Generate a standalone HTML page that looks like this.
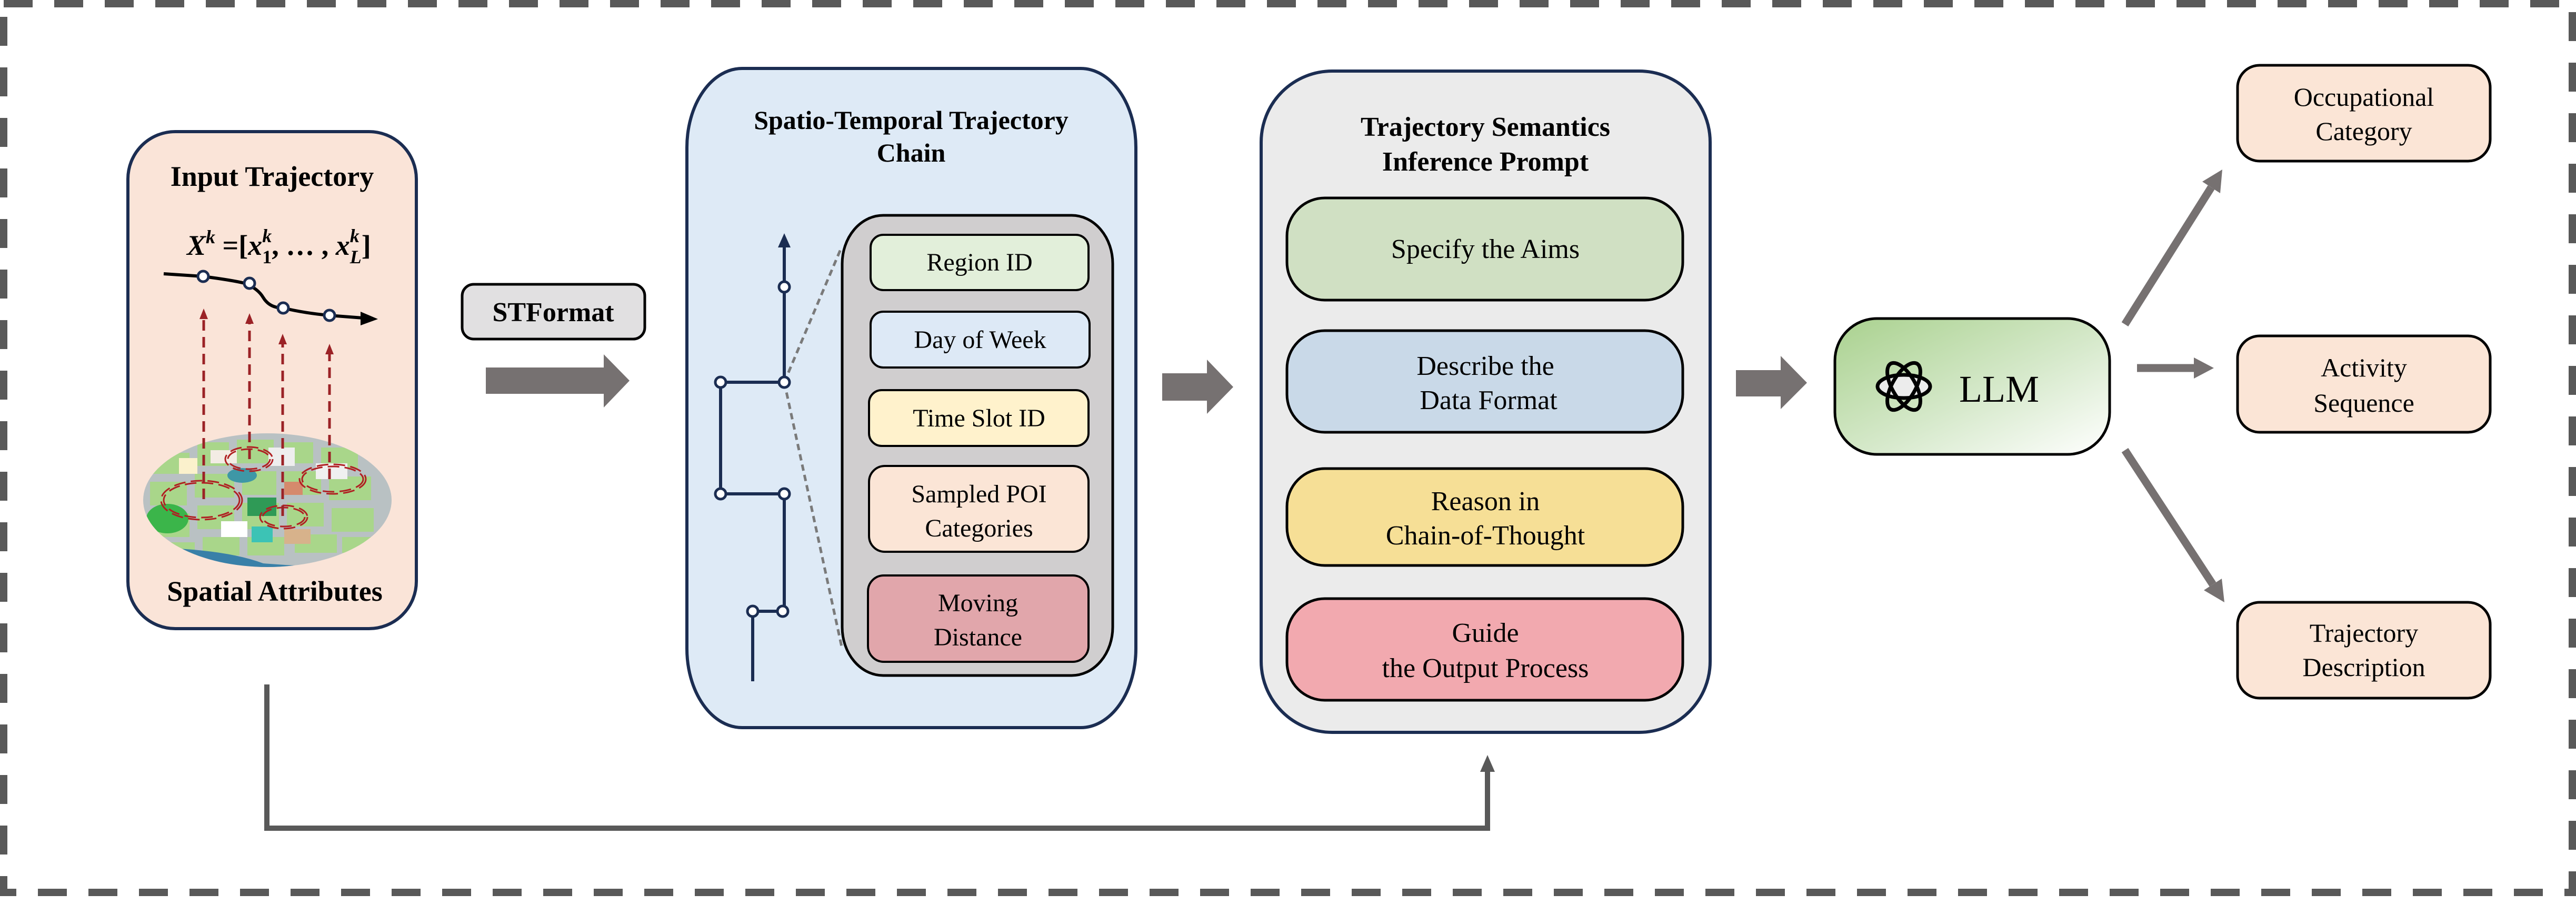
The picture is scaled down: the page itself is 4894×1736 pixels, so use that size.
<!DOCTYPE html>
<html><head><meta charset="utf-8"><style>
html,body{margin:0;padding:0;background:#fff;}
svg{display:block;}
svg text{font-family:"Liberation Serif","Times New Roman","DejaVu Serif",serif;fill:#000;}
.b{font-weight:bold;}
</style></head><body>
<svg width="4894" height="1736" viewBox="0 0 4894 1736" xmlns="http://www.w3.org/2000/svg" font-family="Liberation Serif, Times New Roman, serif">
<defs>
<linearGradient id="llmg" x1="0" y1="0" x2="1" y2="1">
<stop offset="0" stop-color="#a9d18e"/><stop offset="0.55" stop-color="#d6e9cb"/><stop offset="1" stop-color="#ffffff"/>
</linearGradient>
<clipPath id="mapc"><ellipse cx="508" cy="950" rx="236" ry="127"/></clipPath>
</defs>
<rect x="7" y="7" width="4880" height="1688" fill="none" stroke="#595959" stroke-width="14" stroke-dasharray="55 41"/>

<rect x="243" y="250" width="548" height="944" rx="90" ry="90" fill="#fae4d8" stroke="#1b2d52" stroke-width="6"/>
<text class="b" x="517" y="353" font-size="54" text-anchor="middle">Input Trajectory</text>
<text x="355" y="484" font-size="54" font-style="italic" font-weight="bold">X<tspan font-size="36" dy="-22">k</tspan><tspan dy="22" font-style="normal"> =[</tspan>x<tspan font-size="36" dy="-24">k</tspan><tspan font-size="36" dx="-18" dy="40" font-style="normal">1</tspan><tspan dy="-16" font-style="normal">, … , </tspan>x<tspan font-size="36" dy="-24">k</tspan><tspan font-size="36" dx="-18" dy="40">L</tspan><tspan dy="-16" font-style="normal">]</tspan></text>
<path d="M311 520 L386 525 Q440 532 465 538 Q490 548 500 565 Q512 585 538 585 Q580 595 626 599 L690 604" fill="none" stroke="#000" stroke-width="6"/>
<polygon points="685,592 718,606 685,618" fill="#000"/>
<g fill="#fff" stroke="#1b2d52" stroke-width="5">
<circle cx="386" cy="525" r="10"/><circle cx="474" cy="538" r="10"/><circle cx="538" cy="585" r="10"/><circle cx="626" cy="599" r="10"/>
</g>
<g clip-path="url(#mapc)">
<rect x="260" y="815" width="500" height="270" fill="#b9c1c3"/>
<g fill="#a9d68a">
<rect x="290" y="860" width="70" height="40"/><rect x="375" y="840" width="60" height="45"/><rect x="450" y="835" width="70" height="45"/><rect x="535" y="840" width="60" height="40"/><rect x="610" y="850" width="70" height="40"/>
<rect x="285" y="915" width="70" height="45"/><rect x="370" y="900" width="75" height="45"/><rect x="460" y="895" width="65" height="45"/><rect x="540" y="895" width="70" height="45"/><rect x="625" y="905" width="80" height="45"/>
<rect x="280" y="975" width="80" height="45"/><rect x="375" y="960" width="70" height="45"/><rect x="460" y="955" width="70" height="50"/><rect x="545" y="955" width="70" height="45"/><rect x="630" y="965" width="80" height="45"/>
<rect x="300" y="1030" width="70" height="30"/><rect x="385" y="1020" width="70" height="35"/><rect x="470" y="1020" width="70" height="35"/><rect x="560" y="1015" width="80" height="35"/><rect x="650" y="1020" width="70" height="30"/>
</g>
<ellipse cx="318" cy="985" rx="40" ry="28" fill="#3bb54a"/>
<ellipse cx="460" cy="903" rx="28" ry="14" fill="#3e97a6"/>
<rect x="420" y="990" width="50" height="30" fill="#fff"/><rect x="478" y="1000" width="40" height="30" fill="#3cc3b5"/>
<rect x="540" y="1005" width="50" height="28" fill="#d7b28b"/>
<rect x="400" y="855" width="50" height="25" fill="#f3ece4"/><rect x="510" y="850" width="50" height="35" fill="#eeeeee"/><rect x="600" y="880" width="60" height="30" fill="#f0f0f0"/>
<rect x="540" y="915" width="35" height="25" fill="#d58a6c"/><rect x="340" y="870" width="35" height="30" fill="#fbf1cc"/>
<rect x="470" y="945" width="55" height="35" fill="#2f9a56"/>
<path d="M260 1040 Q420 1040 500 1070 Q620 1080 760 1075 L760 1090 L260 1090Z" fill="#3980a8"/>
</g>
<g fill="none" stroke="#b01f22" stroke-width="3" stroke-dasharray="22 10">
<ellipse cx="473" cy="872" rx="45" ry="23"/><ellipse cx="473" cy="872" rx="40" ry="19"/>
<ellipse cx="383" cy="950" rx="77" ry="37"/><ellipse cx="383" cy="950" rx="72" ry="33"/>
<ellipse cx="632" cy="910" rx="63" ry="28"/><ellipse cx="632" cy="910" rx="58" ry="24"/>
<ellipse cx="539" cy="982" rx="45" ry="22"/><ellipse cx="539" cy="982" rx="40" ry="18"/>
</g>
<g stroke="#9b2226" stroke-width="5" stroke-dasharray="20 12">
<line x1="387" y1="948" x2="387" y2="600"/><line x1="474" y1="872" x2="474" y2="610"/><line x1="537" y1="980" x2="537" y2="650"/><line x1="626" y1="910" x2="626" y2="668"/>
</g>
<g fill="#9b2226">
<polygon points="379,606 387,586 395,606"/><polygon points="466,615 474,595 482,615"/><polygon points="529,654 537,634 545,654"/><polygon points="618,673 626,653 634,673"/>
</g>
<text class="b" x="522" y="1141" font-size="54" text-anchor="middle">Spatial Attributes</text>

<rect x="878" y="540" width="347" height="104" rx="22" ry="22" fill="#e1e0e1" stroke="#000" stroke-width="5"/>
<text class="b" x="1051" y="610" font-size="52" text-anchor="middle">STFormat</text>
<g fill="#767171">
<polygon points="923,698 1147,698 1147,673 1196,723 1147,774 1147,748 923,748"/>
<polygon points="2208,709 2293,709 2293,683 2343,735 2293,786 2293,761 2208,761"/>
<polygon points="3298,703 3383,703 3383,676 3433,727 3383,777 3383,753 3298,753"/>
</g>

<rect x="1305" y="130" width="853" height="1252" rx="105" ry="150" fill="#deeaf6" stroke="#1b2d52" stroke-width="6"/>
<text class="b" x="1731" y="245" font-size="50" text-anchor="middle">Spatio-Temporal Trajectory</text>
<text class="b" x="1731" y="307" font-size="50" text-anchor="middle">Chain</text>
<g fill="none" stroke="#1b2d52" stroke-width="6">
<polyline points="1490,460 1490,726 1369,726 1369,938 1490,938 1490,1161 1430,1161 1430,1294"/>
</g>
<polygon points="1478,470 1490,443 1502,470" fill="#1b2d52"/>
<g stroke="#7a7a7a" stroke-width="5" stroke-dasharray="12 8">
<line x1="1490" y1="726" x2="1599" y2="469"/><line x1="1490" y1="726" x2="1599" y2="1228"/>
</g>
<rect x="1600" y="409" width="514" height="874" rx="78" ry="92" fill="#d0cecf" stroke="#000" stroke-width="5"/>
<g fill="#fff" stroke="#1b2d52" stroke-width="5">
<circle cx="1490" cy="545" r="10"/><circle cx="1490" cy="726" r="10"/><circle cx="1369" cy="726" r="10"/><circle cx="1369" cy="938" r="10"/><circle cx="1490" cy="938" r="10"/><circle cx="1487" cy="1161" r="10"/><circle cx="1430" cy="1161" r="10"/>
</g>
<g stroke="#000" stroke-width="4">
<rect x="1654" y="446" width="414" height="105" rx="24" fill="#e2efda"/>
<rect x="1654" y="592" width="416" height="106" rx="24" fill="#dde9f6"/>
<rect x="1651" y="741" width="417" height="106" rx="24" fill="#fff2cc"/>
<rect x="1651" y="885" width="417" height="163" rx="30" fill="#fbe5d6"/>
<rect x="1649" y="1093" width="419" height="164" rx="30" fill="#e1a6ab"/>
</g>
<g font-size="48" text-anchor="middle">
<text x="1861" y="514">Region ID</text>
<text x="1862" y="661">Day of Week</text>
<text x="1860" y="810">Time Slot ID</text>
<text x="1860" y="954">Sampled POI</text>
<text x="1860" y="1019">Categories</text>
<text x="1858" y="1161">Moving</text>
<text x="1858" y="1226">Distance</text>
</g>

<rect x="2396" y="135" width="853" height="1256" rx="135" ry="135" fill="#ebebeb" stroke="#1b2d52" stroke-width="6"/>
<text class="b" x="2822" y="258" font-size="52" text-anchor="middle">Trajectory Semantics</text>
<text class="b" x="2822" y="324" font-size="52" text-anchor="middle">Inference Prompt</text>
<g stroke="#000" stroke-width="5">
<rect x="2445" y="376" width="752" height="194" rx="72" fill="#d0e0c3"/>
<rect x="2445" y="628" width="752" height="193" rx="72" fill="#c9d9e8"/>
<rect x="2445" y="890" width="752" height="184" rx="72" fill="#f6df96"/>
<rect x="2445" y="1137" width="752" height="193" rx="72" fill="#f2a9af"/>
</g>
<g font-size="52" text-anchor="middle">
<text x="2822" y="490">Specify the Aims</text>
<text x="2822" y="712">Describe the</text>
<text x="2828" y="777">Data Format</text>
<text x="2822" y="969">Reason in</text>
<text x="2822" y="1034">Chain-of-Thought</text>
<text x="2822" y="1219">Guide</text>
<text x="2822" y="1286">the Output Process</text>
</g>

<rect x="3486" y="605" width="522" height="258" rx="80" ry="80" fill="url(#llmg)" stroke="#000" stroke-width="5"/>
<g transform="translate(3617,734)" fill="none" stroke="#000" stroke-width="7">
<ellipse rx="50" ry="22" fill="#ececec"/>
<ellipse rx="50" ry="22" transform="rotate(60)"/>
<ellipse rx="50" ry="22" transform="rotate(120)"/>
</g>
<text x="3722" y="763" font-size="72">LLM</text>

<g stroke="#767171" stroke-width="15">
<line x1="4037" y1="616" x2="4201" y2="356"/>
<line x1="4060" y1="699" x2="4172" y2="699"/>
<line x1="4037" y1="855" x2="4204" y2="1110"/>
</g>
<g fill="#767171">
<polygon points="4222,322 4218,367 4184,345"/>
<polygon points="4168,679 4206,699 4168,719"/>
<polygon points="4226,1144 4187,1121 4221,1099"/>
</g>

<g stroke="#000" stroke-width="5" fill="#fbe5d6">
<rect x="4251" y="124" width="480" height="182" rx="42"/>
<rect x="4251" y="638" width="480" height="183" rx="42"/>
<rect x="4251" y="1144" width="480" height="182" rx="42"/>
</g>
<g font-size="50" text-anchor="middle">
<text x="4491" y="201">Occupational</text>
<text x="4491" y="266">Category</text>
<text x="4491" y="715">Activity</text>
<text x="4491" y="782">Sequence</text>
<text x="4491" y="1219">Trajectory</text>
<text x="4491" y="1284">Description</text>
</g>

<polyline points="507,1300 507,1573 2826,1573 2826,1462" fill="none" stroke="#595959" stroke-width="10"/>
<polygon points="2812,1466 2826,1434 2840,1466" fill="#595959"/>
</svg>
</body></html>
